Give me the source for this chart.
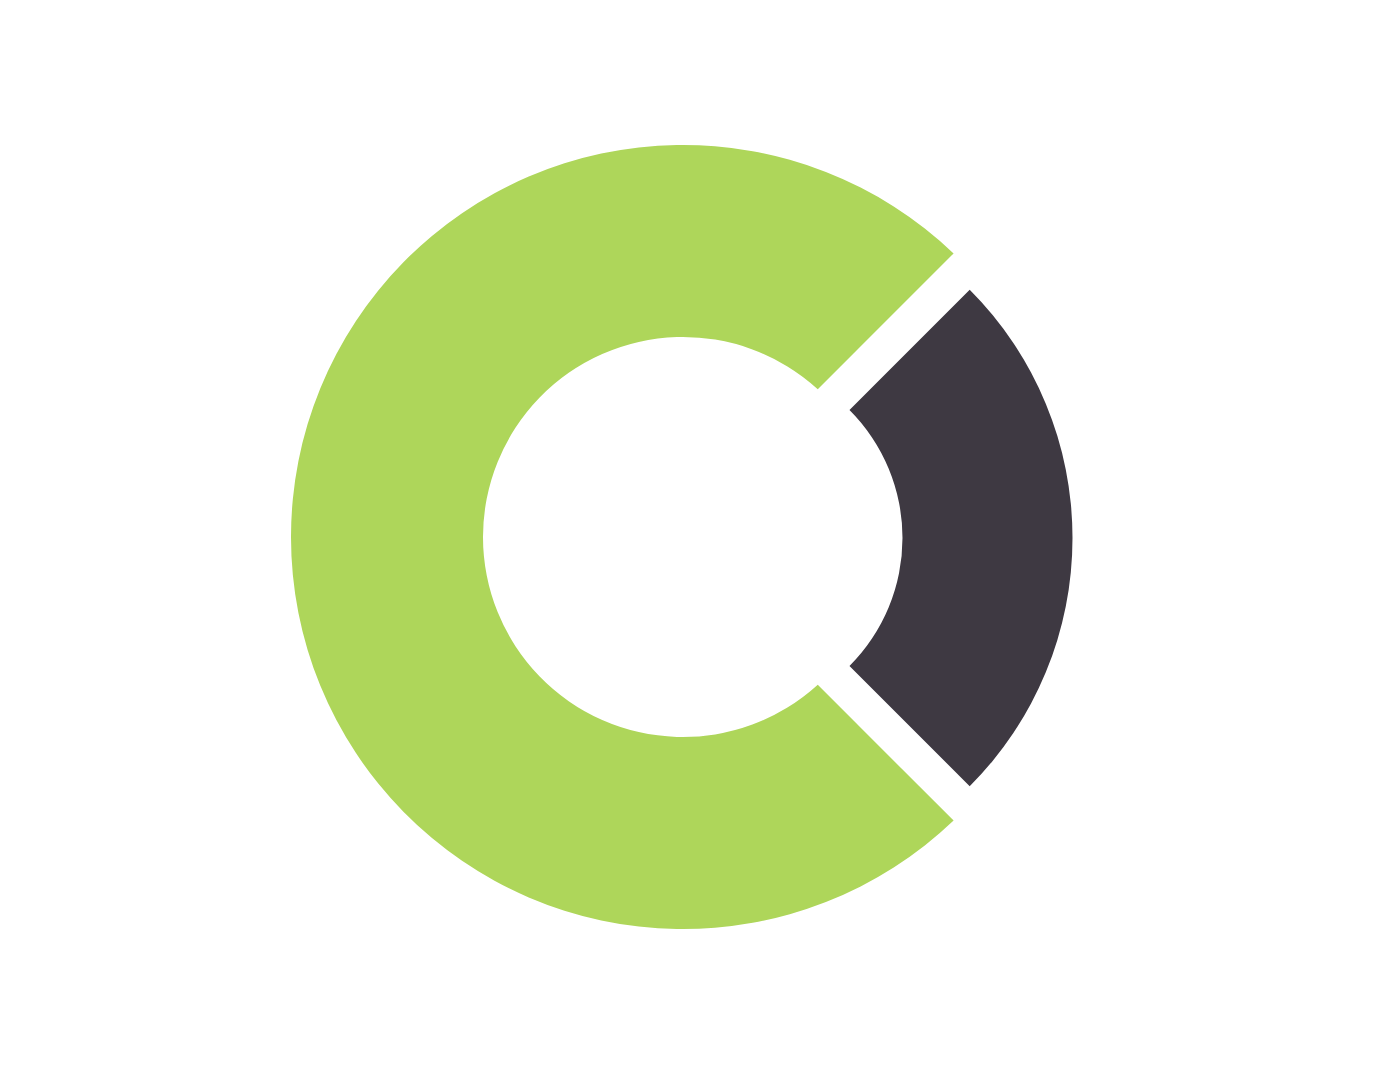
<!DOCTYPE html>
<html>
<head>
<meta charset="utf-8">
<script src="https://cdn.jsdelivr.net/npm/d3@7"></script>
<style>
  body { margin: 0; background: #fff; }
</style>
</head>
<body>
<div class="chart"></div>
<script>
const categories = ["Share A", "Share B"];
const values = [25, 75];

const width = 1385;
const height = 1080;
const cx = 683;
const cy = 537;

// per-slice drawing settings (the dark slice is drawn smaller and pulled right)
const colors = ["#3e3942", "#aed65a"];
const outerR = [351, 392];
const innerR = [181, 200];
const shiftX = [38.5, 0];
const shiftY = [1, 0];
const pads = [0, 0.046];

const svg = d3
  .select(".chart")
  .append("svg")
  .attr("width", width)
  .attr("height", height)
  .append("g")
  .attr("transform", `translate(${cx}, ${cy})`);

const data = categories.map((c, i) => ({ name: c, value: values[i], i }));

const pie = d3
  .pie()
  .sort(null)
  .value(d => d.value)
  .startAngle(Math.PI / 4)
  .endAngle(Math.PI / 4 + 2 * Math.PI);

const arc = d3
  .arc()
  .innerRadius(d => innerR[d.data.i])
  .outerRadius(d => outerR[d.data.i])
  .padAngle(d => pads[d.data.i])
  .padRadius(400);

svg.selectAll(".slice")
  .data(pie(data))
  .enter()
  .append("path")
  .attr("class", "slice")
  .attr("transform", d => `translate(${shiftX[d.data.i]}, ${shiftY[d.data.i]})`)
  .attr("fill", d => colors[d.data.i])
  .attr("d", arc);
</script>
</body>
</html>
